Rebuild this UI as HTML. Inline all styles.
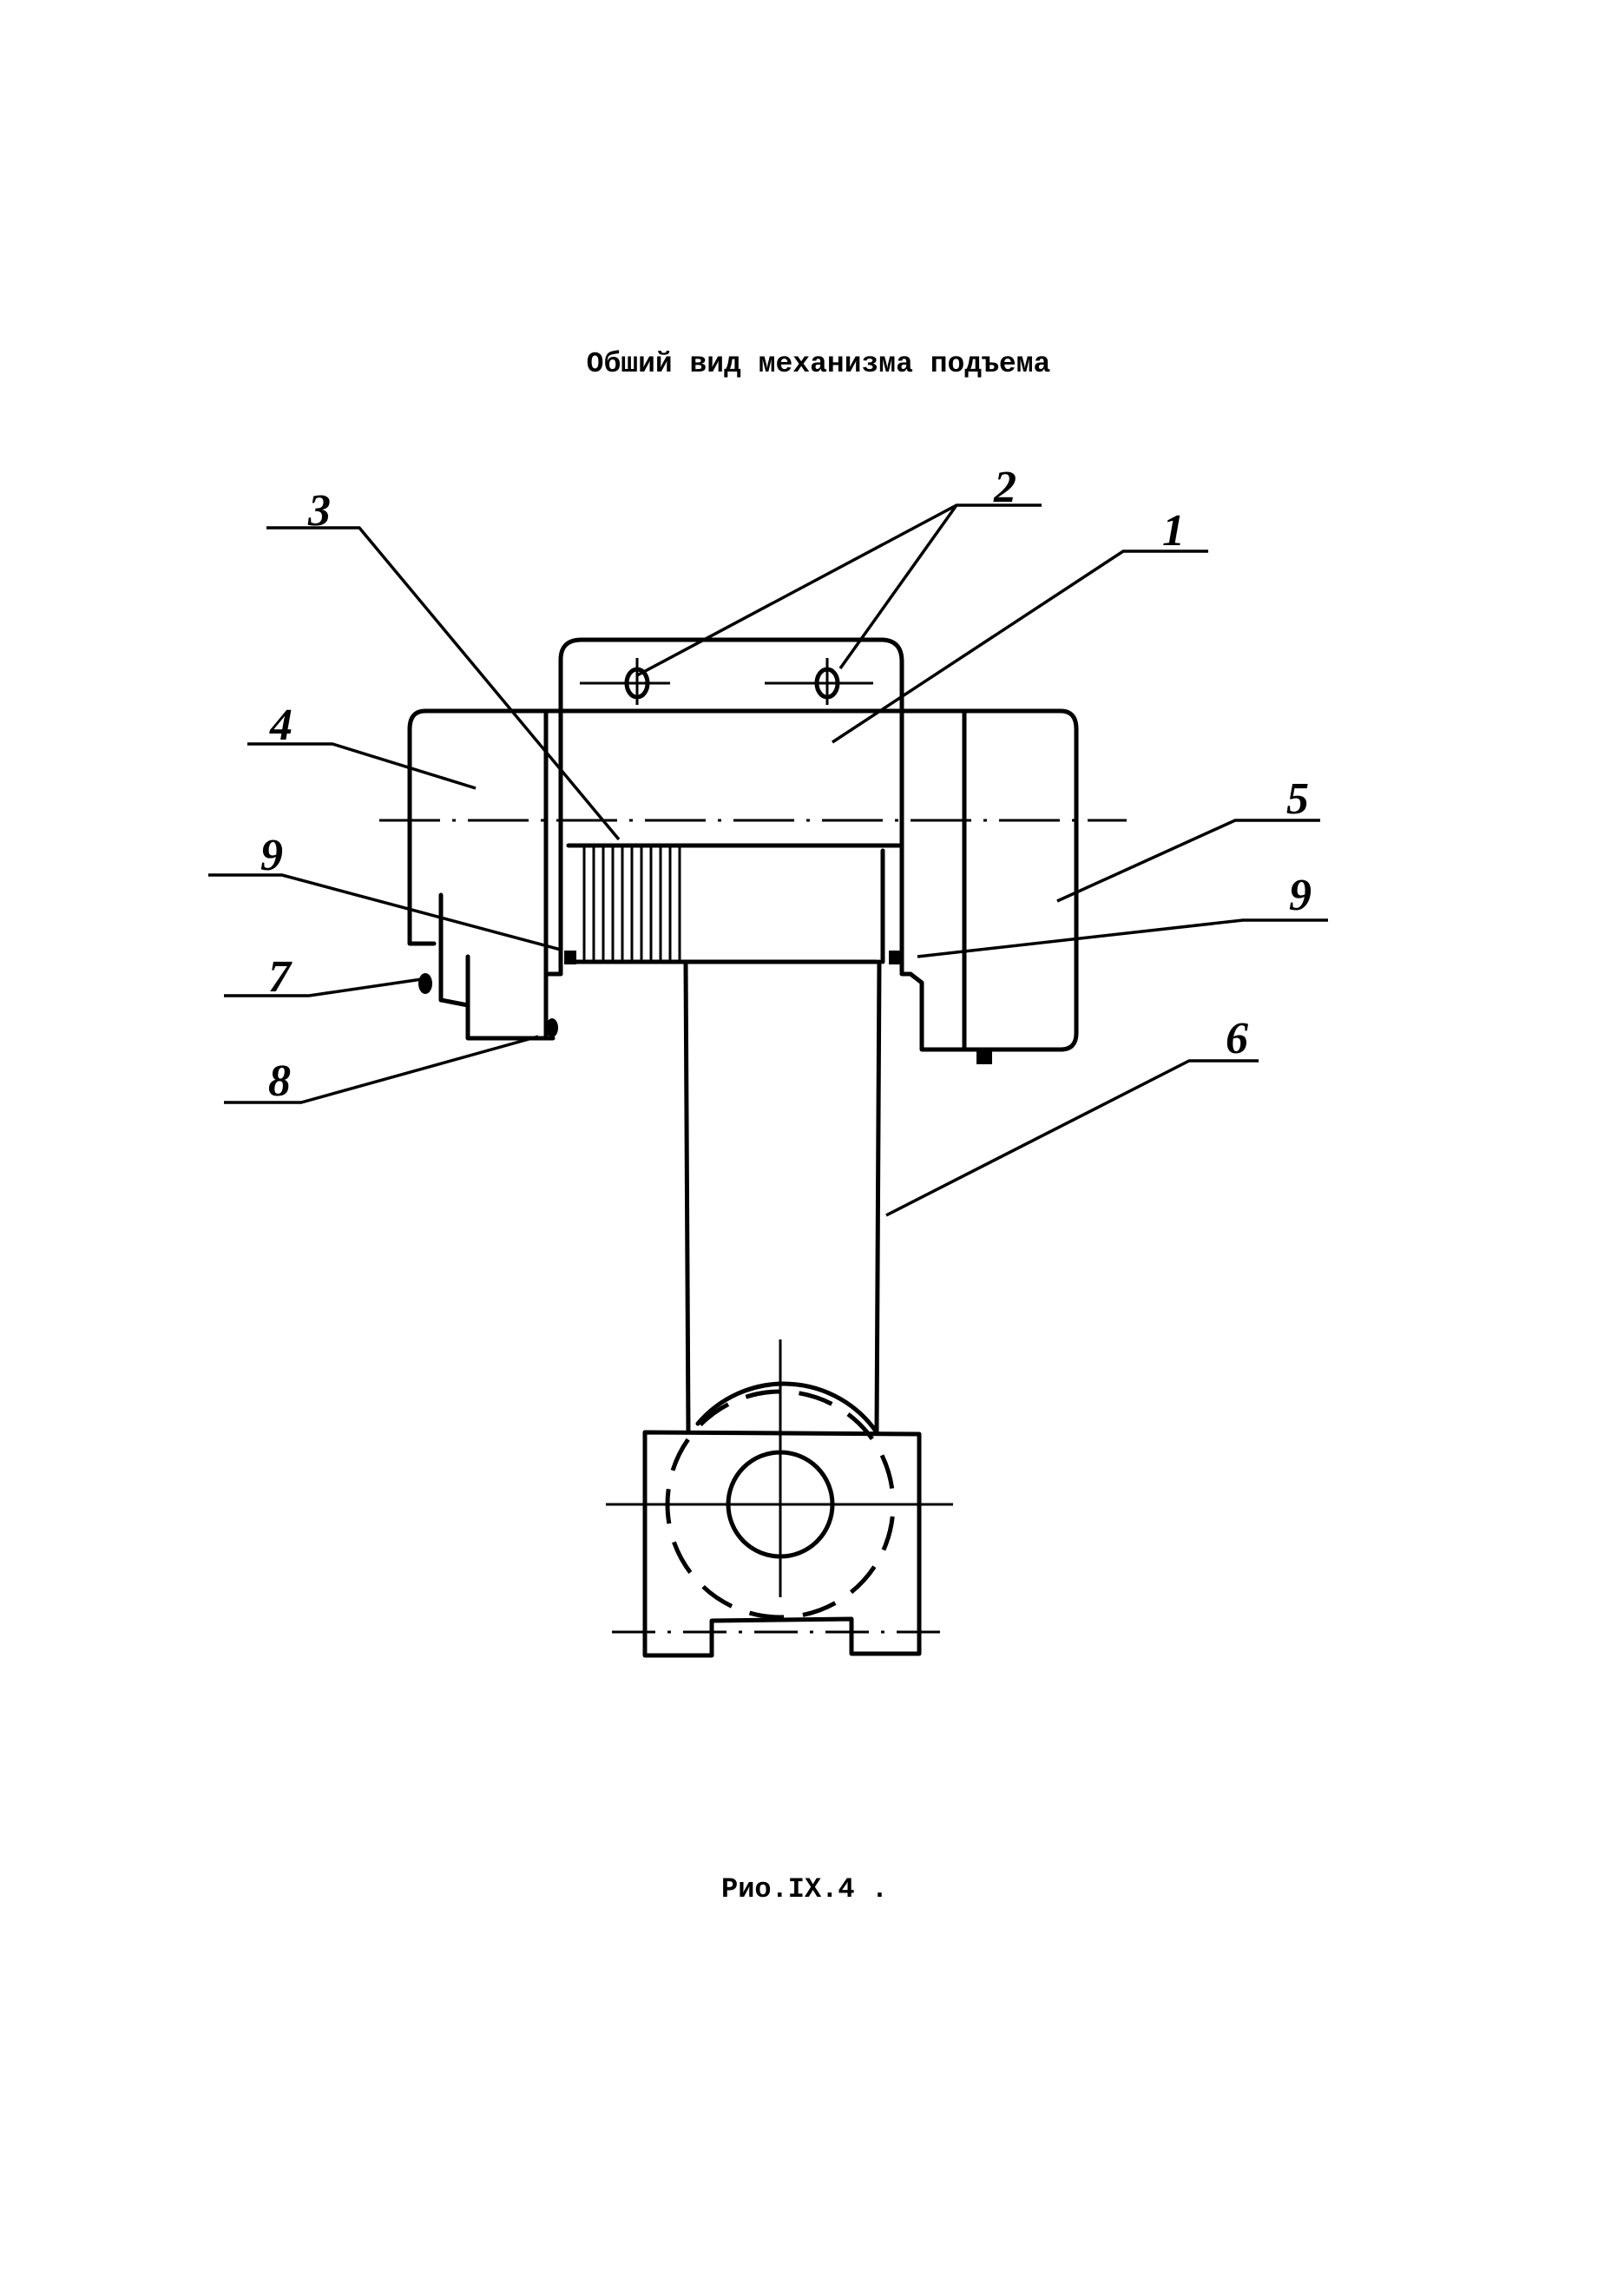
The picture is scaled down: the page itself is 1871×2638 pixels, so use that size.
<!DOCTYPE html>
<html><head><meta charset="utf-8"><style>
html,body{margin:0;padding:0;background:#fff;}
svg{display:block;}
</style></head><body>
<svg width="1871" height="2638" viewBox="0 0 1871 2638" xmlns="http://www.w3.org/2000/svg">
<rect width="1871" height="2638" fill="#fff"/>
<text x="943" y="428" font-family="Liberation Mono, monospace" font-weight="bold" font-size="33" text-anchor="middle">Обший вид механизма подъема</text>
<text x="927" y="2185" font-family="Liberation Mono, monospace" font-weight="bold" font-size="32" text-anchor="middle">Рио.IX.4 .</text>

<g fill="none" stroke="#000" stroke-width="5" stroke-linejoin="round" stroke-linecap="round">
<path d="M646,1122 L646,760 Q646,737 670,737 L1015,737 Q1039,737 1039,762 L1039,1120"/>
<path d="M629,819 L1111,819"/>
<path d="M629,1196 L629,819 L490,819 Q472,819 472,840 L472,1087 L500,1087"/>
<path d="M1111,1209 L1111,819 L1222,819 Q1240,819 1240,840 L1240,1190 Q1240,1209 1222,1209 L1062,1209 L1062,1132 L1049,1122 L1039,1122"/>
<path d="M655,974 L1039,974"/>
<path d="M664,1108 L1010,1108"/>
<path d="M1017,980 L1017,1108"/>
<path d="M508,1031 L508,1152 L539,1158"/>
<path d="M539,1102 L539,1196 L637,1196"/>
<path d="M629,1122 L646,1122"/>
<path d="M790,1108 L793,1650"/>
<path d="M1013,1108 L1010,1650"/>
<path d="M743,1650 L743,1907 L820,1907 L820,1867 L981,1865 L981,1905 L1059,1905 L1059,1652 Z"/>
<circle cx="899" cy="1733" r="60"/>
<path d="M804,1640 A130,130 0 0 1 1010,1650"/>
</g>
<g fill="none" stroke="#000" stroke-width="5">
<circle cx="899" cy="1733" r="130" stroke-dasharray="40,22" stroke-dashoffset="-200"/>
</g>
<g stroke="#000" stroke-width="3">
<line x1="673" y1="976" x2="673" y2="1106"/><line x1="684" y1="976" x2="684" y2="1106"/>
<line x1="695" y1="976" x2="695" y2="1106"/><line x1="706" y1="976" x2="706" y2="1106"/>
<line x1="717" y1="976" x2="717" y2="1106"/><line x1="728" y1="976" x2="728" y2="1106"/>
<line x1="739" y1="976" x2="739" y2="1106"/><line x1="750" y1="976" x2="750" y2="1106"/>
<line x1="761" y1="976" x2="761" y2="1106"/><line x1="772" y1="976" x2="772" y2="1106"/>
<line x1="783" y1="976" x2="783" y2="1106"/>
</g>
<g stroke="#000" stroke-width="3" fill="none">
<line x1="437" y1="945" x2="1298" y2="945" stroke-dasharray="70,14,4,14"/>
<line x1="698" y1="1733" x2="1098" y2="1733"/>
<line x1="899" y1="1543" x2="899" y2="1840"/>
<line x1="705" y1="1880" x2="1094" y2="1880" stroke-dasharray="50,14,4,14"/>
<line x1="668" y1="787" x2="772" y2="787"/>
<line x1="881" y1="787" x2="1006" y2="787"/>
<line x1="734" y1="758" x2="734" y2="812"/>
<line x1="953" y1="758" x2="953" y2="812"/>
</g>
<g fill="none" stroke="#000" stroke-width="5">
<ellipse cx="734" cy="787" rx="12" ry="16"/>
<ellipse cx="953" cy="787" rx="12" ry="16"/>
</g>
<g fill="#000">
<ellipse cx="490" cy="1133" rx="8" ry="12"/>
<ellipse cx="636" cy="1184" rx="7" ry="11"/>
<rect x="1125" y="1210" width="18" height="16"/>
<rect x="650" y="1095" width="14" height="16"/>
<rect x="1024" y="1095" width="14" height="16"/>
</g>
<g stroke="#000" stroke-width="3.5" fill="none">
<path d="M307,608 L414,608 L713,967"/>
<path d="M1200,582 L1102,582 L734,778"/>
<path d="M1102,582 L968,770"/>
<path d="M1392,635 L1294,635 L959,855"/>
<path d="M285,857 L383,857 L548,908"/>
<path d="M1521,945 L1423,945 L1218,1038"/>
<path d="M240,1008 L325,1008 L646,1094"/>
<path d="M1530,1060 L1432,1060 L1057,1102"/>
<path d="M258,1147 L356,1147 L486,1128"/>
<path d="M258,1270 L347,1270 L620,1194"/>
<path d="M1450,1222 L1370,1222 L1021,1400"/>
</g>
<g font-family="Liberation Serif, serif" font-style="italic" font-weight="bold" font-size="52" fill="#000" text-anchor="middle">
<text x="368" y="605">3</text>
<text x="1158" y="578">2</text>
<text x="1352" y="628">1</text>
<text x="324" y="852">4</text>
<text x="1495" y="937">5</text>
<text x="313" y="1002">9</text>
<text x="1498" y="1048">9</text>
<text x="322" y="1142">7</text>
<text x="322" y="1262">8</text>
<text x="1425" y="1213">6</text>
</g>
</svg>
</body></html>
